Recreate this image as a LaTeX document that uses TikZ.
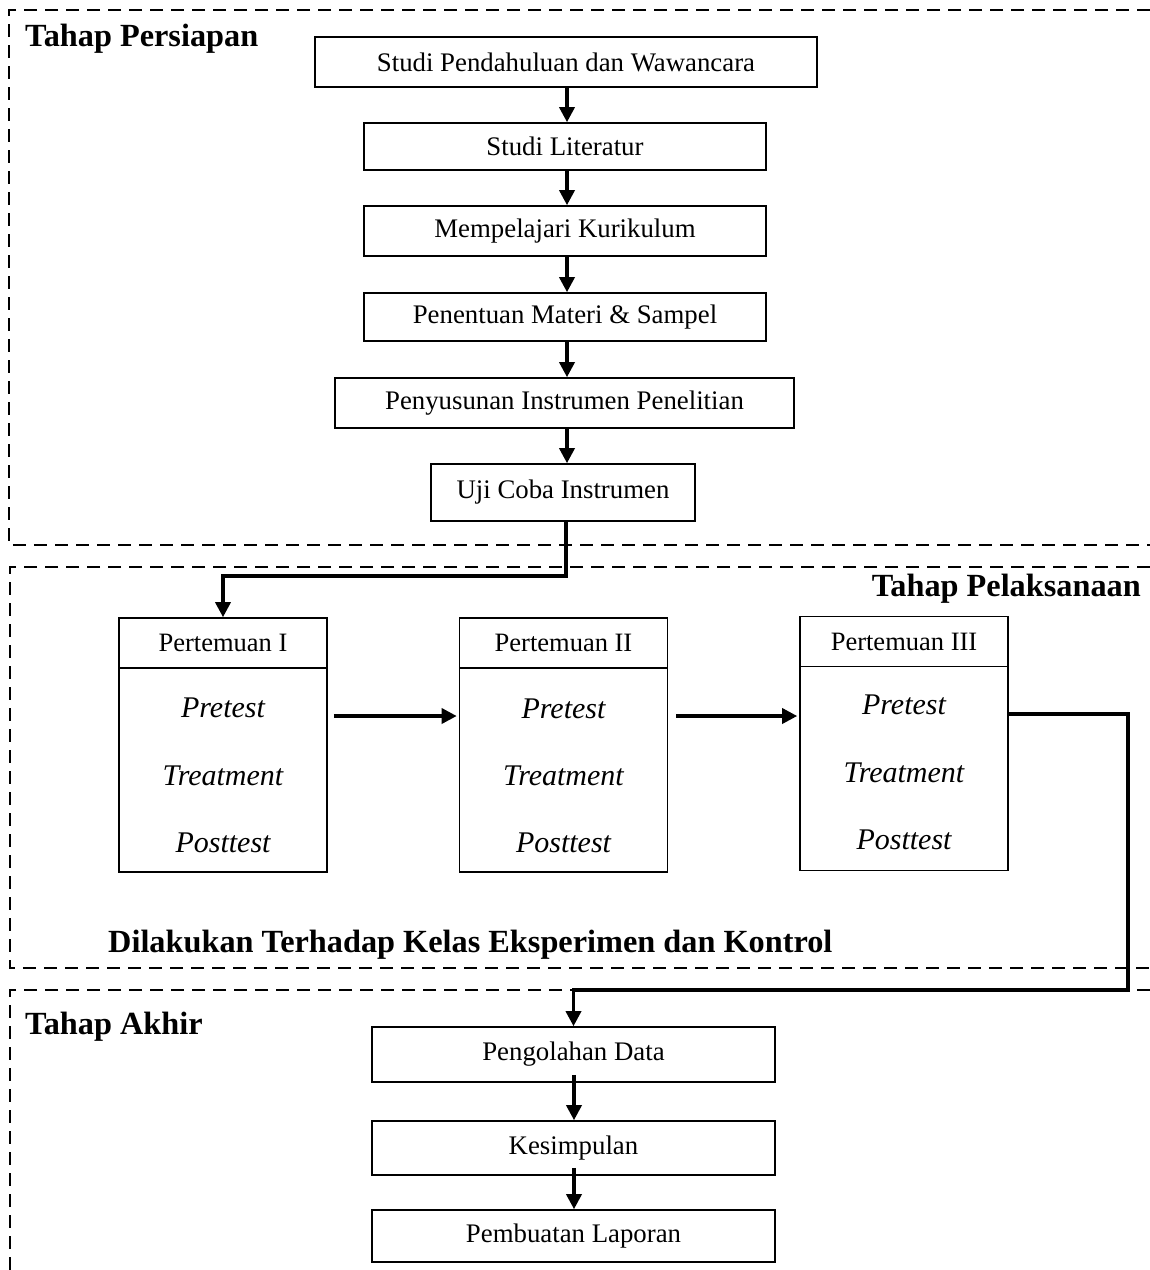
\documentclass[tikz,border=0pt]{standalone}
\usepackage{fontspec}
\setmainfont{Liberation Serif}
\usetikzlibrary{arrows.meta}
\begin{document}
\begin{tikzpicture}[x=1pt,y=-1pt,
  stepbox/.style={draw,line width=1.6pt,inner sep=0pt,font=\fontsize{26.8}{30}\selectfont},
  meetbox/.style={draw,line width=1.6pt,inner sep=0pt,minimum width=208pt,minimum height=254pt},
  meethead/.style={draw,line width=1.6pt,inner sep=0pt,minimum width=208pt,minimum height=50pt,font=\fontsize{26.5}{30}\selectfont},
  itl/.style={font=\fontsize{30}{34}\selectfont\itshape,inner sep=0pt},
  conn/.style={line width=3.4pt,-{Triangle[length=15pt,width=15pt]}},
  section/.style={line width=1.6pt,dash pattern=on 13pt off 8pt},
  title/.style={font=\fontsize{32.3}{36}\selectfont\bfseries,inner sep=0pt}
]
\useasboundingbox (0,0) rectangle (1150,1270);
% sections
\draw[section] (1150,10) -- (9,10) -- (9,545) -- (1150,545);
\draw[section] (1150,567) -- (10,567) -- (10,968) -- (1150,968);
\draw[section] (1150,990) -- (10,990) -- (10,1270);
\node[title,anchor=base west] (t1) at (25,46) {Tahap Persiapan};
\node[title,anchor=base east] (t2) at (1141,596) {Tahap Pelaksanaan};
\node[title,anchor=base west] (t3) at (108,952) {Dilakukan Terhadap Kelas Eksperimen dan Kontrol};
\node[title,anchor=base west] (t4) at (25,1034) {Tahap Akhir};
% section 1
\node[stepbox,minimum width=502pt,minimum height=50pt] (a1) at (566,62) {Studi Pendahuluan dan Wawancara};
\node[stepbox,minimum width=402pt,minimum height=47pt] (a2) at (565,146.5) {Studi Literatur};
\node[stepbox,minimum width=402pt,minimum height=50pt] (a3) at (565,231) {Mempelajari Kurikulum};
\node[stepbox,minimum width=402pt,minimum height=48pt] (a4) at (565,317) {Penentuan Materi \& Sampel};
\node[stepbox,minimum width=459pt,minimum height=50pt] (a5) at (564.5,403) {Penyusunan Instrumen Penelitian};
\node[stepbox,minimum width=264pt,minimum height=57pt] (a6) at (563,492.5) {Uji Coba Instrumen};
\coordinate (x1) at (567,0);
\draw[conn] (a1.south -| x1) -- (a2.north -| x1);
\draw[conn] (a2.south -| x1) -- (a3.north -| x1);
\draw[conn] (a3.south -| x1) -- (a4.north -| x1);
\draw[conn] (a4.south -| x1) -- (a5.north -| x1);
\draw[conn] (a5.south -| x1) -- (a6.north -| x1);
% section 2
\node[meetbox] (p1) at (223,745) {};
\node[meetbox] (p2) at (563.5,745) {};
\node[meetbox] (p3) at (904,743.5) {};
\node[meethead,anchor=north] (h1) at (p1.north) {Pertemuan I};
\node[meethead,anchor=north] (h2) at (p2.north) {Pertemuan II};
\node[meethead,anchor=north] (h3) at (p3.north) {Pertemuan III};
\node[itl] (r1) at (223,708) {Pretest};
\node[itl] (s1) at (223,776) {Treatment};
\node[itl] (q1) at (223,843) {Posttest};
\node[itl] (r2) at (563.5,709) {Pretest};
\node[itl] (s2) at (563.5,776) {Treatment};
\node[itl] (q2) at (563.5,843) {Posttest};
\node[itl] (r3) at (904,705) {Pretest};
\node[itl] (s3) at (904,773) {Treatment};
\node[itl] (q3) at (904,840) {Posttest};
\coordinate (k1) at (566,576);
\coordinate (ya) at (0,716);
\draw[conn] (a6.south -| k1) -- (k1) -| (p1.north);
\draw[conn] ([xshift=6pt]p1.east |- ya) -- ([xshift=-2pt]p2.west |- ya);
\draw[conn] ([xshift=8pt]p2.east |- ya) -- ([xshift=-2pt]p3.west |- ya);
% section 3
\node[stepbox,minimum width=403pt,minimum height=55pt] (b1) at (573.5,1054.5) {Pengolahan Data};
\node[stepbox,minimum width=403pt,minimum height=54pt] (b2) at (573.5,1148) {Kesimpulan};
\node[stepbox,minimum width=403pt,minimum height=52pt] (b3) at (573.5,1236) {Pembuatan Laporan};
\coordinate (k2) at (1128,714);
\coordinate (k3) at (1128,990);
\draw[conn] (p3.east |- k2) -- (k2) -- (k3) -| (b1.north);
\coordinate (x2) at (574,0);
\draw[conn] ([yshift=8pt]b1.south -| x2) -- (b2.north -| x2);
\draw[conn] ([yshift=8pt]b2.south -| x2) -- (b3.north -| x2);
\end{tikzpicture}
\end{document}
